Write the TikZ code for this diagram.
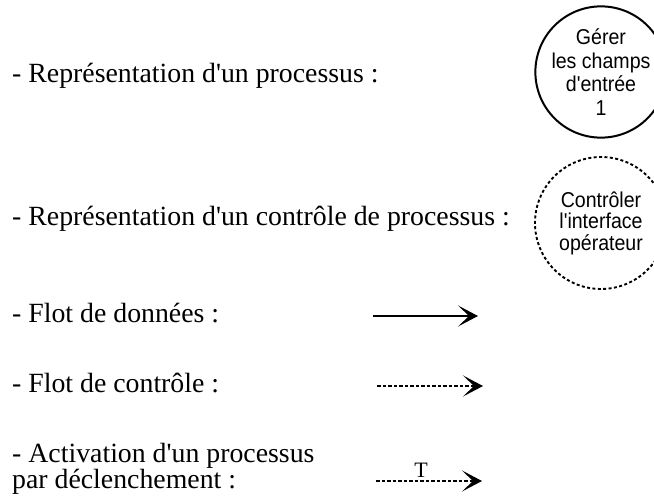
\documentclass[tikz,border=0pt]{standalone}
\usepackage{fontspec}
\setmainfont{Liberation Serif}
\newfontfamily\circfont[FakeStretch=0.91]{Liberation Sans}
\usetikzlibrary{arrows.meta}
\begin{document}
\begin{tikzpicture}[x=1pt,y=-1pt,
  lbl/.style={anchor=base west,inner sep=0pt,font=\fontsize{27.8}{26}\selectfont},
  proc/.style={draw,circle,line width=2pt,minimum size=126pt,inner sep=0pt,align=center,
    font=\circfont\fontsize{21.5}{23.5}\selectfont},
  ctrl/.style={proc,line width=1.9pt,dash pattern=on 3pt off 2.4pt,minimum size=132pt,
    font=\circfont\fontsize{21.5}{21.5}\selectfont},
  head/.style={-{Stealth[length=20pt,width=21pt,inset=11pt]}},
  dflow/.style={head,line width=1.8pt},
  cflow/.style={head,line width=1.8pt,dash pattern=on 3.5pt off 2pt}]
\useasboundingbox (0,0) rectangle (654,503);
\begin{scope}
\clip (0,0) rectangle (654,503);
\node[proc] (p1) at (601,72) {Gérer\\les champs\\d'entrée\\1};
\node[ctrl] (p2) at (601,223) {Contrôler\\l'interface\\opérateur};
\end{scope}
\node[lbl] (t1) at (12,83) {- Représentation d\textquotesingle un processus :};
\node[lbl] (t2) at (12,225) {- Représentation d\textquotesingle un contrôle de processus :};
\node[lbl] (t3) at (12,322) {- Flot de données :};
\node[lbl] (t4) at (12,392) {- Flot de contrôle :};
\node[lbl] (t5) at (12,462) {- Activation d\textquotesingle un processus};
\node[lbl] (t6) at (12,488) {par déclenchement :};
\coordinate (a1) at (373,316);
\coordinate (a2) at (478,316);
\coordinate (b1) at (377,386);
\coordinate (b2) at (483,386);
\coordinate (c1) at (376,481);
\coordinate (c2) at (482,481);
\draw[dflow] (a1) -- (a2);
\draw[cflow] (b1) -- (b2);
\draw[cflow] (c1) -- (c2);
\node[anchor=base,inner sep=0pt,font=\fontsize{22}{22}\selectfont] (tl) at (421,477) {T};
\end{tikzpicture}
\end{document}
